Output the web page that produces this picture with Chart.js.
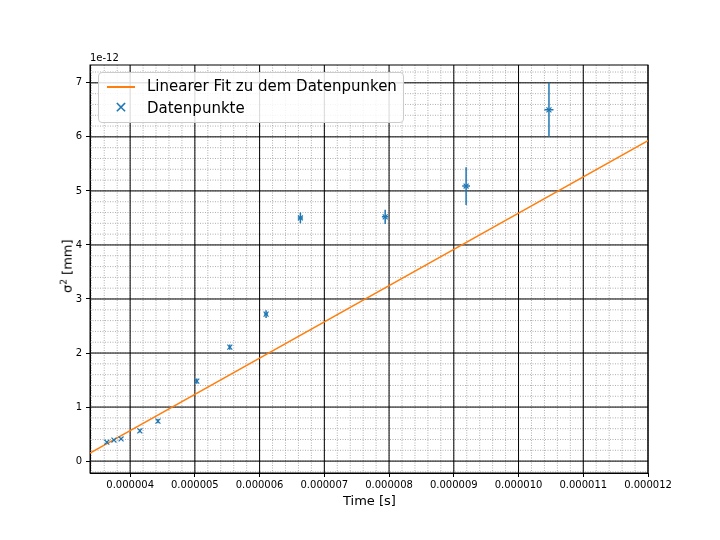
<!DOCTYPE html>
<html><head><meta charset="utf-8">
<script src="https://cdn.jsdelivr.net/npm/chart.js@4"></script>
<style>
body{margin:0;background:#fff;font-family:"DejaVu Sans",sans-serif}
#wrap{position:relative;width:720px;height:540px}
#legend{position:absolute;left:98px;top:72px;width:304px;height:49px;border:1px solid #ccc;border-radius:4px;background:rgba(255,255,255,0.85);font-size:15px;color:#000}
.row{position:absolute;left:8px;height:20px;line-height:20px}
.off{position:absolute;left:90px;top:52px;font-size:10px}
.xt{position:absolute;left:343px;top:493px;font-size:13px}
.yt{position:absolute;left:40px;top:258px;font-size:13px;transform:rotate(-90deg);transform-origin:center;white-space:nowrap}
</style></head><body>
<div id="wrap"><canvas id="c" width="720" height="540"></canvas>
<div class="off">1e-12</div>
<div class="xt">Time [s]</div>
<div class="yt">σ<sup style="font-size:9px">2</sup> [mm]</div>
<div id="legend">
 <div class="row" style="top:3px"><span style="display:inline-block;width:28px;border-top:2px solid #ff7f0e;vertical-align:middle;margin-right:12px"></span>Linearer Fit zu dem Datenpunken</div>
 <div class="row" style="top:25px"><span style="display:inline-block;width:28px;text-align:center;color:#1f77b4;margin-right:12px;font-size:16px">✕</span>Datenpunkte</div>
</div></div>
<script>
// measured data (time in s, sigma^2 in 1e-12 mm)
const timeVals = [3.64e-6, 3.75e-6, 3.86e-6, 4.15e-6, 4.43e-6, 5.03e-6, 5.54e-6, 6.10e-6, 6.63e-6, 7.94e-6, 9.19e-6, 10.47e-6];
const sigmaVals = [0.35, 0.39, 0.41, 0.56, 0.74, 1.48, 2.11, 2.72, 4.50, 4.52, 5.09, 6.50];
const sigmaErr = [0.02, 0.02, 0.02, 0.03, 0.04, 0.05, 0.05, 0.07, 0.10, 0.13, 0.35, 0.50];
const timeErr = [0.01e-6, 0.01e-6, 0.01e-6, 0.01e-6, 0.01e-6, 0.02e-6, 0.02e-6, 0.03e-6, 0.04e-6, 0.05e-6, 0.06e-6, 0.07e-6];
const fitX = [3.38e-6, 12e-6];
const fitY = [0.15, 5.93];
const xTicks = [4e-6, 5e-6, 6e-6, 7e-6, 8e-6, 9e-6, 10e-6, 11e-6, 12e-6];
const yTicks = [0, 1, 2, 3, 4, 5, 6, 7];

const blue = '#1f77b4', orange = '#ff7f0e';

const gridPlugin = {
  id: 'grids',
  beforeDatasetsDraw(chart) {
    const {ctx, chartArea: a, scales: {x, y}} = chart;
    ctx.save();
    ctx.strokeStyle = '#999'; ctx.lineWidth = 0.8; ctx.setLineDash([1, 1.5]);
    for (let v = 3.4e-6; v < 12e-6; v += 0.2e-6) {
      const p = x.getPixelForValue(v);
      ctx.beginPath(); ctx.moveTo(p, a.top); ctx.lineTo(p, a.bottom); ctx.stroke();
    }
    for (let v = -0.2; v < 7.4; v += 0.2) {
      const p = y.getPixelForValue(v);
      if (p < a.top || p > a.bottom) continue;
      ctx.beginPath(); ctx.moveTo(a.left, p); ctx.lineTo(a.right, p); ctx.stroke();
    }
    ctx.setLineDash([]); ctx.strokeStyle = '#000'; ctx.lineWidth = 1;
    xTicks.forEach(v => { const p = x.getPixelForValue(v); ctx.beginPath(); ctx.moveTo(p, a.top); ctx.lineTo(p, a.bottom); ctx.stroke(); });
    yTicks.forEach(v => { const p = y.getPixelForValue(v); ctx.beginPath(); ctx.moveTo(a.left, p); ctx.lineTo(a.right, p); ctx.stroke(); });
    ctx.strokeRect(a.left, a.top, a.right - a.left, a.bottom - a.top);
    ctx.restore();
  },
  afterDatasetsDraw(chart) {
    const {ctx, scales: {x, y}} = chart;
    ctx.save(); ctx.strokeStyle = blue; ctx.lineWidth = 1.5;
    timeVals.forEach((t, i) => {
      const px = x.getPixelForValue(t), py = y.getPixelForValue(sigmaVals[i]);
      ctx.beginPath();
      ctx.moveTo(px, y.getPixelForValue(sigmaVals[i] - sigmaErr[i]));
      ctx.lineTo(px, y.getPixelForValue(sigmaVals[i] + sigmaErr[i]));
      ctx.moveTo(x.getPixelForValue(t - timeErr[i]), py);
      ctx.lineTo(x.getPixelForValue(t + timeErr[i]), py);
      ctx.stroke();
    });
    ctx.restore();
  }
};

new Chart(document.getElementById('c'), {
  type: 'scatter',
  data: {datasets: [
    {data: timeVals.map((t, i) => ({x: t, y: sigmaVals[i]})), pointStyle: 'crossRot', pointRadius: 3.5, borderColor: blue, borderWidth: 1.2, showLine: false},
    {data: fitX.map((t, i) => ({x: t, y: fitY[i]})), showLine: true, borderColor: orange, borderWidth: 1.5, pointRadius: 0}
  ]},
  options: {
    responsive: false, animation: false, devicePixelRatio: 1,
    layout: {padding: {top: 65, right: 72, left: 0, bottom: 0}},
    plugins: {legend: {display: false}, tooltip: {enabled: false}},
    scales: {
      x: {type: 'linear', min: 3.38e-6, max: 12e-6,
        afterBuildTicks: s => { s.ticks = xTicks.map(v => ({value: v})); },
        afterFit: s => { s.height = 67; },
        grid: {drawOnChartArea: false, drawTicks: true, tickLength: 4, color: '#000'},
        border: {color: '#000'},
        ticks: {color: '#000', padding: 2, font: {family: 'DejaVu Sans', size: 10}, maxRotation: 0, callback: v => v.toFixed(6)}},
      y: {type: 'linear', min: -0.22, max: 7.33,
        afterBuildTicks: s => { s.ticks = yTicks.map(v => ({value: v})); },
        afterFit: s => { s.width = 90; },
        grid: {drawOnChartArea: false, drawTicks: true, tickLength: 4, color: '#000'},
        border: {color: '#000'},
        ticks: {color: '#000', padding: 4, font: {family: 'DejaVu Sans', size: 10}}}
    }
  },
  plugins: [gridPlugin]
});
</script></body></html>
